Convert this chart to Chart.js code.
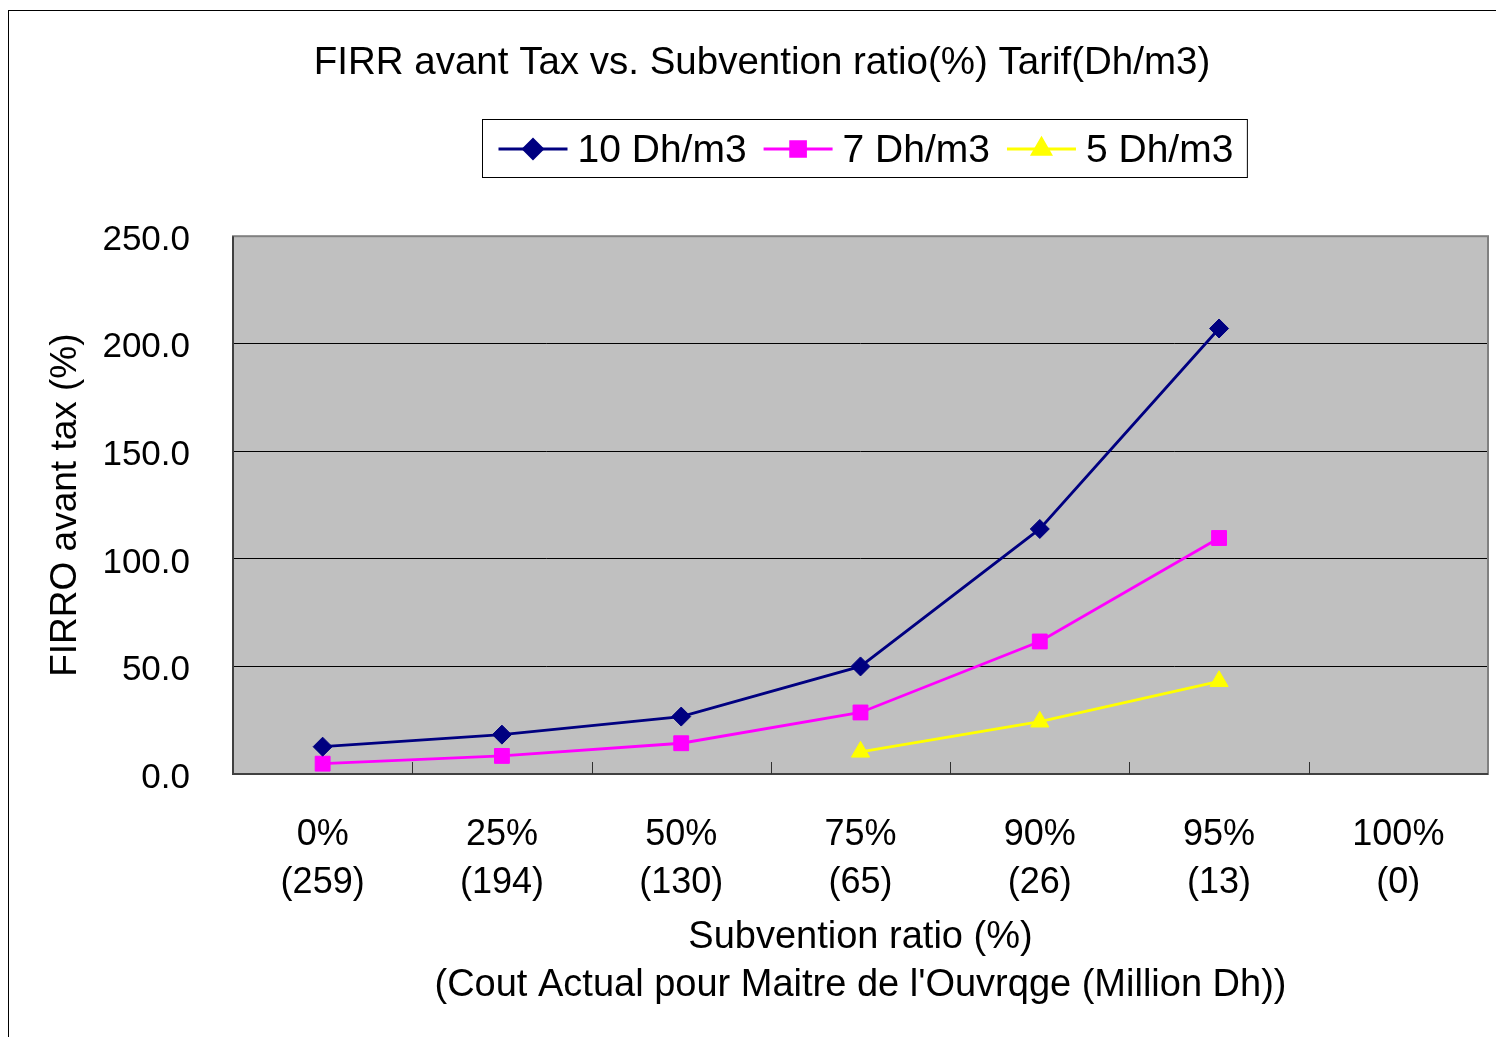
<!DOCTYPE html>
<html>
<head>
<meta charset="utf-8">
<title>FIRR avant Tax vs. Subvention ratio</title>
<script src="https://cdn.jsdelivr.net/npm/chart.js@4.4.1/dist/chart.umd.min.js"></script>
<style>
    body { margin: 0; background: #fff; }
    canvas { display: block; }
</style>
</head>
<body>
<canvas id="firrChart" width="1496" height="1037"></canvas>
<script>
// values
const subventionRatios = ['0%', '25%', '50%', '75%', '90%', '95%', '100%'];
const actualCosts = ['(259)', '(194)', '(130)', '(65)', '(26)', '(13)', '(0)'];
const tarif10 = [12.7, 18.3, 26.7, 50.0, 113.9, 207.1, null];
const tarif7 = [4.8, 8.4, 14.3, 28.6, 61.6, 109.7, null];
const tarif5 = [null, null, null, 10.3, 24.3, 43.1, null];
const yTicks = [0, 50, 100, 150, 200, 250];

const FONT = '"Liberation Sans", Arial, sans-serif';

// grey plot area, its frame and the small inner tick marks of the x axis
const plotArea = {
    id: 'plotArea',
    beforeDraw: (chart) => {
        const { ctx, chartArea } = chart;
        ctx.save();
        ctx.fillStyle = '#C0C0C0';
        ctx.fillRect(chartArea.left, chartArea.top, chartArea.right - chartArea.left, chartArea.bottom - chartArea.top);
        ctx.restore();
    },
    beforeDatasetsDraw: (chart) => {
        const { ctx, chartArea, scales } = chart;
        const { left, right, top, bottom } = chartArea;
        ctx.save();
        ctx.strokeStyle = '#808080';
        ctx.lineWidth = 2;
        ctx.strokeRect(left, top, right - left, bottom - top);

        ctx.strokeStyle = '#404040';
        ctx.lineWidth = 2;
        ctx.beginPath();
        ctx.moveTo(left, top);
        ctx.lineTo(left, bottom);
        ctx.lineTo(right, bottom);
        ctx.stroke();

        ctx.lineWidth = 1;
        ctx.strokeStyle = '#303030';
        const xs = scales.x;
        for (let i = 1; i < subventionRatios.length; i++) {
            const px = Math.round((xs.getPixelForValue(i - 1) + xs.getPixelForValue(i)) / 2) + 0.5;
            ctx.beginPath();
            ctx.moveTo(px, bottom - 12);
            ctx.lineTo(px, bottom);
            ctx.stroke();
        }
        ctx.restore();
    }
};

// excel style legend: line + marker + label inside a framed box
const legendBox = {
    id: 'legendBox',
    afterDraw: (chart) => {
        const { ctx, chartArea } = chart;
        const lineLen = 69, gapText = 10, gapItem = 17, padL = 16, padR = 14;
        const boxTop = 119, boxH = 58;
        ctx.save();
        ctx.font = '39px ' + FONT;
        const items = chart.data.datasets.map(ds => ({ ds, w: ctx.measureText(ds.label).width }));
        let total = padL + padR;
        items.forEach((it, i) => {
            total += lineLen + gapText + it.w + (i < items.length - 1 ? gapItem : 0);
        });
        const boxLeft = Math.round((chartArea.left + chartArea.right) / 2 + 4 - total / 2) + 0.5;
        ctx.fillStyle = '#fff';
        ctx.fillRect(boxLeft, boxTop + 0.5, total, boxH);
        ctx.strokeStyle = '#000';
        ctx.lineWidth = 1;
        ctx.strokeRect(boxLeft, boxTop + 0.5, total, boxH);

        const cy = boxTop + boxH / 2 + 1;
        let x = boxLeft + padL;
        items.forEach(({ ds, w }) => {
            ctx.strokeStyle = ds.borderColor;
            ctx.lineWidth = ds.borderWidth;
            ctx.beginPath();
            ctx.moveTo(x, cy);
            ctx.lineTo(x + lineLen, cy);
            ctx.stroke();
            ctx.fillStyle = ds.backgroundColor;
            Chart.helpers.drawPoint(ctx, {
                pointStyle: ds.pointStyle,
                radius: ds.pointRadius,
                rotation: 0,
                borderWidth: 1
            }, x + lineLen / 2, cy);
            ctx.fillStyle = '#000';
            ctx.textAlign = 'left';
            ctx.textBaseline = 'middle';
            ctx.fillText(ds.label, x + lineLen + gapText, cy + 2);
            x += lineLen + gapText + w + gapItem;
        });
        ctx.restore();
    }
};

// outer frame of the chart object (only top and left visible in the picture)
const outerFrame = {
    id: 'outerFrame',
    afterDraw: (chart) => {
        const { ctx } = chart;
        ctx.save();
        ctx.strokeStyle = '#000';
        ctx.lineWidth = 1;
        ctx.strokeRect(8.5, 10.5, 1600, 1100);
        ctx.restore();
    }
};

const makeDataset = (label, data, color, pointStyle, radius, width) => ({
    label: label,
    data: data,
    borderColor: color,
    backgroundColor: color,
    borderWidth: width,
    pointStyle: pointStyle,
    pointRadius: radius,
    pointHoverRadius: radius,
    pointBorderWidth: 1,
    pointBorderColor: color,
    pointBackgroundColor: color,
    tension: 0,
    spanGaps: false
});

const initializeChart = () => {
    const ctx = document.getElementById('firrChart').getContext('2d');
    new Chart(ctx, {
        type: 'line',
        data: {
            labels: subventionRatios.map((r, i) => [r, actualCosts[i]]),
            datasets: [
                makeDataset('10 Dh/m3', tarif10, '#000080', 'rectRot', 9.5, 2.8),
                makeDataset('7 Dh/m3', tarif7, '#FF00FF', 'rect', 10.5, 2.8),
                makeDataset('5 Dh/m3', tarif5, '#FFFF00', 'triangle', 10.5, 2.8)
            ]
        },
        options: {
            responsive: false,
            animation: false,
            layout: { autoPadding: false, padding: { top: 10, left: 36, right: 8, bottom: 0 } },
            plugins: {
                legend: { display: false },
                tooltip: { enabled: false },
                title: {
                    display: true,
                    text: 'FIRR avant Tax vs. Subvention ratio(%) Tarif(Dh/m3)',
                    color: '#000',
                    font: { family: FONT, size: 38.5, weight: 'normal', lineHeight: 1.2 },
                    padding: { top: 30, bottom: 150 }
                }
            },
            scales: {
                x: {
                    type: 'category',
                    offset: true,
                    grid: { display: false, drawTicks: false },
                    border: { display: false },
                    ticks: {
                        color: '#000',
                        padding: 37,
                        maxRotation: 0,
                        autoSkip: false,
                        font: { family: FONT, size: 36, lineHeight: 48 / 36 }
                    },
                    title: {
                        display: true,
                        text: ['Subvention ratio (%)', "(Cout Actual pour Maitre de l'Ouvrqge (Million Dh))"],
                        color: '#000',
                        font: { family: FONT, size: 38, lineHeight: 48 / 38 },
                        padding: { top: 0, bottom: 27 }
                    },
                    afterFit: (scale) => { scale.height = 263; }
                },
                y: {
                    min: yTicks[0],
                    max: yTicks[yTicks.length - 1],
                    afterBuildTicks: (scale) => { scale.ticks = yTicks.map(v => ({ value: v })); },
                    grid: { color: '#000', lineWidth: 1, drawTicks: false },
                    border: { display: false },
                    ticks: {
                        color: '#000',
                        padding: 43,
                        labelOffset: 4,
                        font: { family: FONT, size: 35 },
                        callback: (v) => Number(v).toFixed(1)
                    },
                    title: {
                        display: true,
                        text: 'FIRRO avant tax (%)',
                        color: '#000',
                        font: { family: FONT, size: 37, lineHeight: 1.2 },
                        padding: { top: 8, bottom: 0 }
                    },
                    afterFit: (scale) => { scale.width = 197; }
                }
            }
        },
        plugins: [plotArea, legendBox, outerFrame]
    });
};

window.onload = () => {
    initializeChart();
};
</script>
</body>
</html>
